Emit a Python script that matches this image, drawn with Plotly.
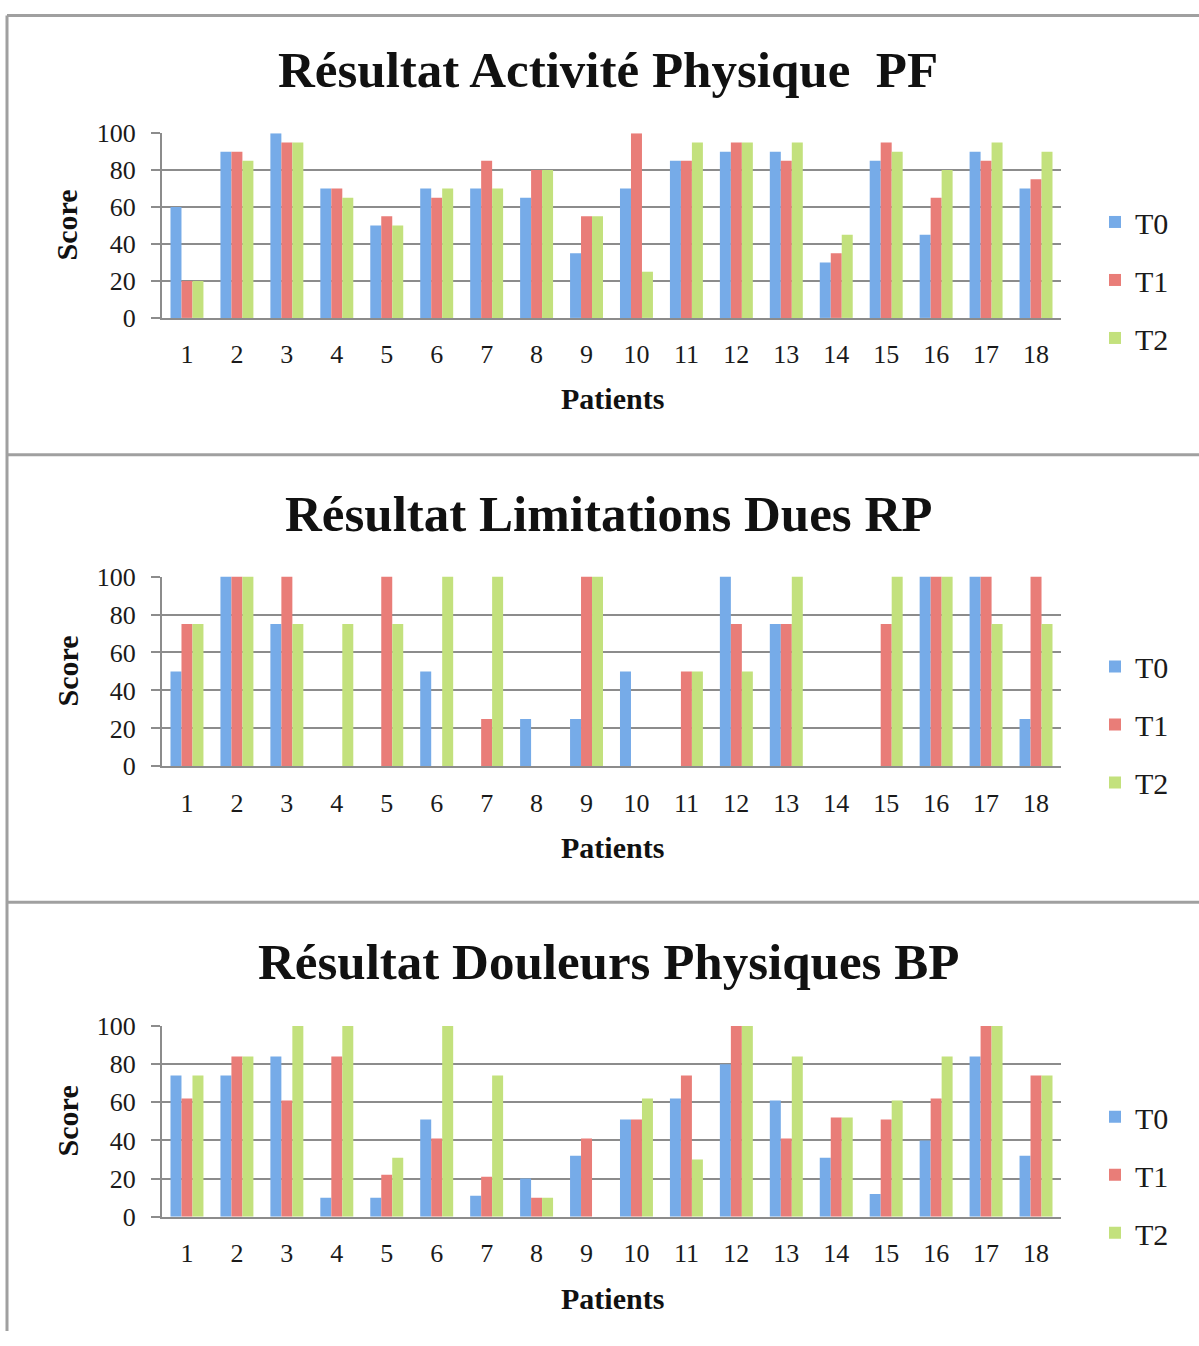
import plotly.graph_objects as go
from plotly.subplots import make_subplots

patients = [str(i) for i in range(1, 19)]
series_names = ["T0", "T1", "T2"]

titles = ["Résultat Activité Physique  PF",
          "Résultat Limitations Dues RP",
          "Résultat Douleurs Physiques BP"]

pf_t0 = [60, 90, 100, 70, 50, 70, 70, 65, 35, 70, 85, 90, 90, 30, 85, 45, 90, 70]
pf_t1 = [20, 90, 95, 70, 55, 65, 85, 80, 55, 100, 85, 95, 85, 35, 95, 65, 85, 75]
pf_t2 = [20, 85, 95, 65, 50, 70, 70, 80, 55, 25, 95, 95, 95, 45, 90, 80, 95, 90]

rp_t0 = [50, 100, 75, 0, 0, 50, 0, 25, 25, 50, 0, 100, 75, 0, 0, 100, 100, 25]
rp_t1 = [75, 100, 100, 0, 100, 0, 25, 0, 100, 0, 50, 75, 75, 0, 75, 100, 100, 100]
rp_t2 = [75, 100, 75, 75, 75, 100, 100, 0, 100, 0, 50, 50, 100, 0, 100, 100, 75, 75]

bp_t0 = [74, 74, 84, 10, 10, 51, 11, 20, 32, 51, 62, 80, 61, 31, 12, 40, 84, 32]
bp_t1 = [62, 84, 61, 84, 22, 41, 21, 10, 41, 51, 74, 100, 41, 52, 51, 62, 100, 74]
bp_t2 = [74, 84, 100, 100, 31, 100, 74, 10, 0, 62, 30, 100, 84, 52, 61, 84, 100, 74]

y_ticks = [0, 20, 40, 60, 80, 100]

datasets = [[pf_t0, pf_t1, pf_t2], [rp_t0, rp_t1, rp_t2], [bp_t0, bp_t1, bp_t2]]
colors = ["#76ABE8", "#E97D78", "#C3E17D"]

W, H = 1199, 1346
FONT = "Liberation Serif"

# the viewer shows the page slightly shrunk vertically with a small top offset;
# target pixel positions are converted to page positions accordingly
Y_OFF, Y_SCALE = 13.7, 0.9797


def px_x(p):
    return p / W


def px_y(p):
    page = (p - Y_OFF) / Y_SCALE
    page = min(max(page, 1.5), H - 0.5)
    return 1 - page / H


# target pixel geometry of each panel: (plot top, plot bottom, title y, xtitle y, legend center y)
panels = [
    (133, 318, 70, 399, 280),
    (577, 767, 514, 848, 725),
    (1027, 1218, 963, 1300, 1176),
]
x0, x1 = 162, 1061

fig = make_subplots(rows=3, cols=1)

for r, (vals, (top, bot, ty, xty, ly)) in enumerate(zip(datasets, panels), start=1):
    leg = "legend" if r == 1 else f"legend{r}"
    for name, v, c in zip(series_names, vals, colors):
        fig.add_trace(go.Bar(x=patients, y=v, name=name, marker_color=c,
                             marker_line_width=0, legend=leg, legendgroup=f"{r}{name}"),
                      row=r, col=1)
    xa = "xaxis" if r == 1 else f"xaxis{r}"
    ya = "yaxis" if r == 1 else f"yaxis{r}"
    fig.layout[xa].update(domain=[px_x(x0), px_x(x1)], showline=True, linecolor="#8c8c8c",
                          linewidth=2, ticks="", tickfont=dict(family=FONT, size=26, color="#1a1a1a"),
                          ticklabelstandoff=12, showgrid=False, fixedrange=True)
    fig.layout[ya].update(domain=[px_y(bot), px_y(top)], range=[0, 100], tickvals=y_ticks,
                          showline=True, linecolor="#8c8c8c", linewidth=2,
                          ticks="outside", ticklen=9, tickcolor="#8c8c8c", tickwidth=2,
                          showgrid=True, gridcolor="#8c8c8c", gridwidth=2,
                          tickfont=dict(family=FONT, size=26, color="#1a1a1a"),
                          ticklabelstandoff=10, zeroline=False, fixedrange=True)
    fig.layout[leg] = dict(x=px_x(1095), xanchor="left", y=px_y(ly), yanchor="middle",
                           font=dict(family=FONT, size=30, color="#1a1a1a"),
                           tracegroupgap=16, bgcolor="rgba(0,0,0,0)")
    fig.add_annotation(text=f"<b>{titles[r-1]}</b>", x=px_x(608), y=px_y(ty), xref="paper",
                       yref="paper", xanchor="center", yanchor="middle", showarrow=False,
                       font=dict(family=FONT, size=51, color="#111111"))
    fig.add_annotation(text="<b>Patients</b>", x=px_x(612), y=px_y(xty), xref="paper",
                       yref="paper", xanchor="center", yanchor="middle", showarrow=False,
                       font=dict(family=FONT, size=30, color="#111111"))
    fig.add_annotation(text="<b>Score</b>", x=px_x(67), y=px_y((top + bot) / 2), xref="paper",
                       yref="paper", xanchor="center", yanchor="middle", showarrow=False,
                       textangle=-90, font=dict(family=FONT, size=30, color="#111111"))

# panel borders
border = dict(color="#a0a0a0", width=3)
for yb in [11, 455, 903]:
    fig.add_shape(type="line", xref="paper", yref="paper", x0=px_x(7), x1=1.0,
                  y0=px_y(yb), y1=px_y(yb), line=border)
fig.add_shape(type="line", xref="paper", yref="paper", x0=px_x(7), x1=px_x(7),
              y0=px_y(11), y1=0, line=border)

fig.update_layout(width=W, height=H, margin=dict(l=0, r=0, t=0, b=0),
                  paper_bgcolor="white", plot_bgcolor="white",
                  barmode="group", bargap=0.34, bargroupgap=0,
                  font=dict(family=FONT), showlegend=True)

post = ("document.documentElement.style.margin='0';document.documentElement.style.padding='0';"
        "document.documentElement.style.overflow='hidden';"
        "document.body.style.margin='0';document.body.style.padding='0';"
        "document.body.style.overflow='hidden';"
        "var gs=document.querySelectorAll('.plotly-graph-div');"
        "for(var i=0;i<gs.length;i++){var g=gs[i];g.style.position='fixed';"
        "g.style.top='0px';g.style.left='0px';g.style.margin='0';}")
fig.write_html("out.html", post_script=post, config={"displayModeBar": False})
